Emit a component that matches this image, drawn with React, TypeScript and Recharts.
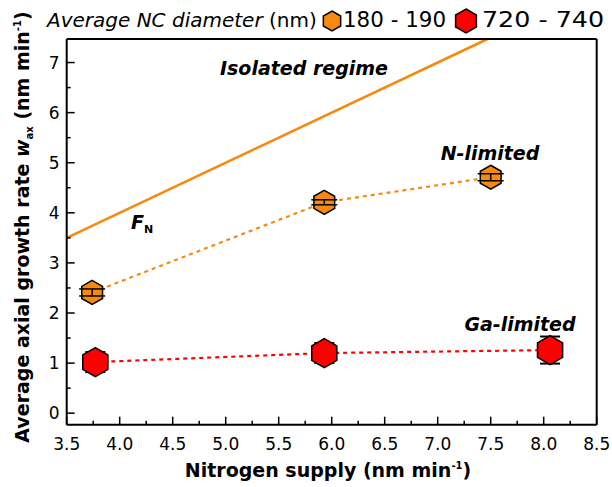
import { ComposedChart, Line, Scatter, ErrorBar, XAxis, YAxis } from 'recharts';

// nitrogen supply flux (F_N), nm/min
const fnSupply = [3.5, 7.47];
const fnRate = [3.5, 7.47];

// 180 - 190 nm wires
const supplySmall = [3.74, 5.93, 7.5];
const rateSmall = [2.41, 4.21, 4.71];
const errSmall = [0.07, 0.05, 0.07];

// 720 - 740 nm wires
const supplyLarge = [3.77, 5.93, 8.06];
const rateLarge = [1.02, 1.2, 1.26];
const errLarge = [0.2, 0.2, 0.27];

const xTicks = [3.5, 3.75, 4, 4.25, 4.5, 4.75, 5, 5.25, 5.5, 5.75, 6, 6.25, 6.5, 6.75, 7, 7.25, 7.5, 7.75, 8, 8.25, 8.5];
const yTicks = [0, 0.5, 1, 1.5, 2, 2.5, 3, 3.5, 4, 4.5, 5, 5.5, 6, 6.5, 7];

const X_DOMAIN = [3.5, 8.5];
const Y_DOMAIN = [-0.23, 7.47];

const ORANGE = '#F7890E';
const RED = '#FF0000';
const FONT = '"DejaVu Sans", sans-serif';

const toRows = (xs: number[], ys: number[], errs?: number[]) =>
  xs.map((x, i) => ({ x, y: ys[i], err: errs ? errs[i] : 0 }));

const fnData = toRows(fnSupply, fnRate);
const smallData = toRows(supplySmall, rateSmall, errSmall);
const largeData = toRows(supplyLarge, rateLarge, errLarge);

const hexPoints = (cx: number, cy: number, r: number) =>
  [0, 1, 2, 3, 4, 5]
    .map((k) => {
      const a = ((-90 + 60 * k) * Math.PI) / 180;
      return `${cx + r * Math.cos(a)},${cy + r * Math.sin(a)}`;
    })
    .join(' ');

const hexShape = (fill: string, r: number) => (props: any) => (
  <polygon points={hexPoints(props.cx, props.cy, r)} fill={fill} stroke="#000" strokeWidth={1.5} />
);

const isMajor = (v: number, step: number) => Math.abs(v / step - Math.round(v / step)) < 1e-6;

const BottomTick = (props: any) => {
  const { x, y, payload } = props;
  const major = isMajor(payload.value, 0.5);
  return (
    <g>
      <line x1={x} x2={x} y1={y} y2={y - (major ? 8 : 4)} stroke="#000" strokeWidth={1.5} />
      {major && (
        <text x={x} y={y + 25} textAnchor="middle" fontSize={17} fontFamily={FONT} fill="#000">
          {payload.value.toFixed(1)}
        </text>
      )}
    </g>
  );
};

const TopTick = (props: any) => {
  const { x, y, payload } = props;
  const major = isMajor(payload.value, 0.5);
  return <line x1={x} x2={x} y1={y} y2={y + (major ? 8 : 4)} stroke="#000" strokeWidth={1.5} />;
};

const LeftTick = (props: any) => {
  const { x, y, payload } = props;
  const major = isMajor(payload.value, 1);
  return (
    <g>
      <line x1={x} x2={x + (major ? 8 : 4)} y1={y} y2={y} stroke="#000" strokeWidth={1.5} />
      {major && (
        <text x={x - 7} y={y} dy="0.36em" textAnchor="end" fontSize={17} fontFamily={FONT} fill="#000">
          {payload.value}
        </text>
      )}
    </g>
  );
};

const RightTick = (props: any) => {
  const { x, y, payload } = props;
  const major = isMajor(payload.value, 1);
  return <line x1={x} x2={x - (major ? 8 : 4)} y1={y} y2={y} stroke="#000" strokeWidth={1.5} />;
};

const noShape = () => <g />;

// the plot box: left 66.7, right 596.7, top 39, bottom 424.7
const MARGIN = { top: 38, right: 14.3, bottom: 32.3, left: 6.7 };
const OVERLAY_MARGIN = { top: 39, right: 15.3, bottom: 62.3, left: 66.7 };

export default function App() {
  const axisLine = { stroke: '#000', strokeWidth: 2 };
  return (
    <div style={{ position: 'absolute', left: 0, top: 0, width: 612, height: 487, background: '#fff' }}>
      <ComposedChart width={612} height={487} margin={MARGIN}>
        <XAxis xAxisId="b" dataKey="x" type="number" domain={X_DOMAIN} ticks={xTicks} interval={0}
          tickSize={0} tickMargin={0} height={30} axisLine={axisLine} tickLine={false} tick={BottomTick} />
        <XAxis xAxisId="t" orientation="top" type="number" domain={X_DOMAIN} ticks={xTicks} interval={0}
          tickSize={0} tickMargin={0} height={1} axisLine={axisLine} tickLine={false} tick={TopTick} />
        <YAxis yAxisId="l" dataKey="y" type="number" domain={Y_DOMAIN} ticks={yTicks} interval={0}
          tickSize={0} tickMargin={0} width={60} axisLine={axisLine} tickLine={false} tick={LeftTick} />
        <YAxis yAxisId="r" orientation="right" type="number" domain={Y_DOMAIN} ticks={yTicks} interval={0}
          tickSize={0} tickMargin={0} width={1} axisLine={axisLine} tickLine={false} tick={RightTick} />

        <Line xAxisId="b" yAxisId="l" data={fnData} dataKey="y" stroke={ORANGE} strokeWidth={2.5}
          dot={false} isAnimationActive={false} />
        <Line xAxisId="b" yAxisId="l" data={smallData} dataKey="y" stroke={ORANGE} strokeWidth={2.2}
          strokeDasharray="4 4" dot={false} isAnimationActive={false} />
        <Line xAxisId="b" yAxisId="l" data={largeData} dataKey="y" stroke={RED} strokeWidth={2.2}
          strokeDasharray="4 4" dot={false} isAnimationActive={false} />

        <Scatter xAxisId="b" yAxisId="l" data={largeData} dataKey="y" shape={noShape} isAnimationActive={false}>
          <ErrorBar dataKey="err" direction="y" width={10} stroke="#000" strokeWidth={2} isAnimationActive={false} />
        </Scatter>
        <Scatter xAxisId="b" yAxisId="l" data={largeData} dataKey="y" shape={hexShape(RED, 14.5)} isAnimationActive={false} />
        <Scatter xAxisId="b" yAxisId="l" data={smallData} dataKey="y" shape={hexShape(ORANGE, 12)} isAnimationActive={false} />

        {/* legend */}
        <g fontFamily={FONT} fontSize={20} fill="#000">
          <text x={47} y={27}>
            <tspan fontStyle="italic">Average NC diameter</tspan>
            <tspan> (nm)</tspan>
          </text>
          <polygon points={hexPoints(332, 21, 10)} fill={ORANGE} stroke="#000" strokeWidth={1.5} />
          <text x={343} y={27} fontSize={21} textLength={103} lengthAdjust="spacingAndGlyphs">180 - 190</text>
          <polygon points={hexPoints(466, 21, 12)} fill={RED} stroke="#000" strokeWidth={1.5} />
          <text x={482} y={27} fontSize={21} textLength={122} lengthAdjust="spacingAndGlyphs">720 - 740</text>
        </g>

        {/* annotations */}
        <g fontFamily={FONT} fontWeight="bold" fontStyle="italic" fill="#000">
          <text x={304} y={75} textAnchor="middle" fontSize={19}>Isolated regime</text>
          <text x={131} y={229} fontSize={19}>
            F<tspan fontSize={11} fontStyle="normal" dy={4}>N</tspan>
          </text>
          <text x={490} y={160} textAnchor="middle" fontSize={19}>N-limited</text>
          <text x={520} y={331} textAnchor="middle" fontSize={19}>Ga-limited</text>
        </g>

        {/* axis titles */}
        <g fontFamily={FONT} fontWeight="bold" fill="#000" fontSize={19}>
          <text x={328} y={477} textAnchor="middle">
            Nitrogen supply (nm min<tspan fontSize={10} dy={-8}>-1</tspan><tspan dy={8}>)</tspan>
          </text>
          <text x={0} y={0} transform="translate(29 227) rotate(-90)" textAnchor="middle">
            Average axial growth rate <tspan fontStyle="italic">w</tspan><tspan fontSize={10} dy={4}>ax</tspan>
            <tspan dy={-4}> (nm min</tspan><tspan fontSize={10} dy={-8}>-1</tspan><tspan dy={8}>)</tspan>
          </text>
        </g>
      </ComposedChart>

      {/* error bars of the small wires sit on top of their markers */}
      <div style={{ position: 'absolute', left: 0, top: 0 }}>
        <ComposedChart width={612} height={487} margin={OVERLAY_MARGIN}>
          <XAxis xAxisId="b" dataKey="x" type="number" domain={X_DOMAIN} hide />
          <YAxis yAxisId="l" dataKey="y" type="number" domain={Y_DOMAIN} hide />
          <Scatter xAxisId="b" yAxisId="l" data={smallData} dataKey="y" shape={noShape} isAnimationActive={false}>
            <ErrorBar dataKey="err" direction="y" width={13} stroke="#000" strokeWidth={1.5} isAnimationActive={false} />
          </Scatter>
        </ComposedChart>
      </div>
    </div>
  );
}
